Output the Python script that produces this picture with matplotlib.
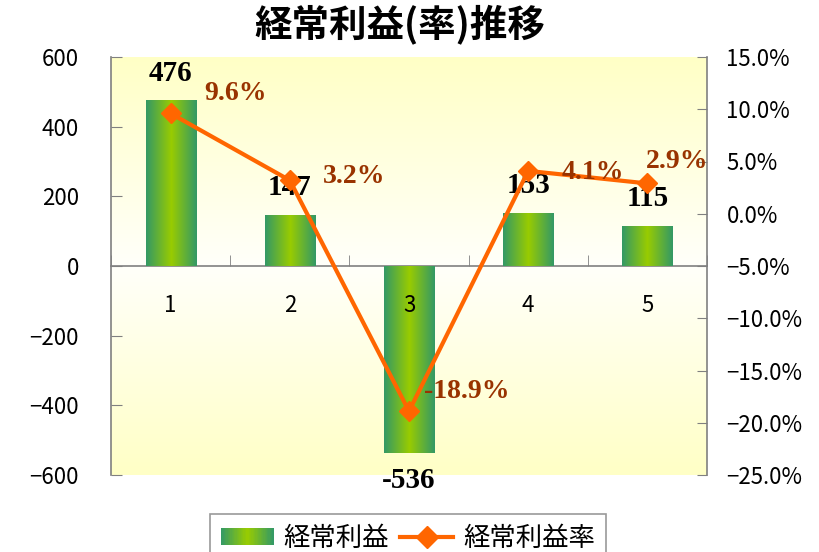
import numpy as np
import matplotlib
matplotlib.use("Agg")
import matplotlib.pyplot as plt
from matplotlib.colors import LinearSegmentedColormap
from matplotlib.patches import Rectangle
from matplotlib.lines import Line2D
from matplotlib.legend_handler import HandlerBase
from matplotlib.ticker import FuncFormatter

plt.rcParams['font.family'] = ['Noto Sans CJK JP', 'DejaVu Sans']

# ---- data ----
categories = ["1", "2", "3", "4", "5"]
profit = [476, 147, -536, 153, 115]
margin = [0.096, 0.032, -0.189, 0.041, 0.029]
margin_labels = ["9.6%", "3.2%", "-18.9%", "4.1%", "2.9%"]
title = "経常利益(率)推移"
bar_name = "経常利益"
line_name = "経常利益率"

left_ticks = [-600, -400, -200, 0, 200, 400, 600]
right_ticks = [-0.25, -0.20, -0.15, -0.10, -0.05, 0.0, 0.05, 0.10, 0.15]

# ---- style ----
dark_green = "#339966"
light_green = "#99CC00"
orange = "#FF6600"
brown = "#993300"
axis_gray = "#808080"
# label offsets (points) from each marker: (dx, dy) to left-center of text
pct_offsets = [(24, 14), (24, 3), (11, 14), (24, -1), (-1, 16)]

bar_cmap = LinearSegmentedColormap.from_list(
    "bar", [dark_green, light_green, dark_green], N=256)
bg_cmap = LinearSegmentedColormap.from_list(
    "bg", ["#FFFFC6", "#FFFFFA", "#FFFFC6"], N=256)

fig = plt.figure(figsize=(8.19, 5.52), dpi=100)
ax = fig.add_axes([111/819, 1-475/552, (707-111)/819, (475-57)/552])
x = np.arange(1, len(categories) + 1)

# background gradient
bg = np.linspace(0, 1, 256).reshape(-1, 1)
ax.imshow(bg, cmap=bg_cmap, extent=[0, 1, 0, 1], transform=ax.transAxes,
          aspect='auto', zorder=0)

ax.set_xlim(0.5, len(categories) + 0.5)
ax.set_ylim(-600, 600)

bars = ax.bar(x, profit, width=0.42, color=light_green, zorder=2, linewidth=0)
grad = np.linspace(0, 1, 256).reshape(1, -1)
for b in bars:
    x0, y0 = b.get_x(), b.get_y()
    w, h = b.get_width(), b.get_height()
    im = ax.imshow(grad, cmap=bar_cmap, extent=[x0, x0 + w, min(y0, y0 + h), max(y0, y0 + h)],
                   aspect='auto', zorder=3)
    im.set_clip_path(b)
    b.set_alpha(0)

# bar value labels
for xi, v in zip(x, profit):
    if v >= 0:
        ax.annotate(str(v), (xi, v), xytext=(0, 14), textcoords='offset points',
                    ha='center', va='baseline', fontsize=21, fontweight='bold',
                    family='Liberation Serif', color='black', zorder=6)
    else:
        ax.annotate(str(v), (xi, v), xytext=(0, -10), textcoords='offset points',
                    ha='center', va='top', fontsize=21, fontweight='bold',
                    family='Liberation Serif', color='black', zorder=6)

# axes styling (left)
for s in ['top', 'right']:
    ax.spines[s].set_visible(False)
ax.spines['bottom'].set_position(('data', 0))
for s in ['left', 'bottom']:
    ax.spines[s].set_color(axis_gray)
    ax.spines[s].set_linewidth(1.2)
ax.set_yticks(left_ticks)
ax.yaxis.set_major_formatter(FuncFormatter(lambda v, p: f"{int(v)}".replace("-", "\u2212")))
ax.tick_params(axis='y', direction='in', length=8, color=axis_gray, labelsize=16, pad=23)
ax.set_xticks(x)
ax.set_xticklabels(categories)
ax.tick_params(axis='x', which='major', length=0, labelsize=16, pad=20)
ax.set_xticks(np.arange(0.5, len(categories) + 1, 1), minor=True)
ax.tick_params(axis='x', which='minor', direction='in', length=8, color=axis_gray)
ax.xaxis.set_zorder(4)

# right axis line
ax2 = ax.twinx()
ax2.set_ylim(-0.25, 0.15)
ax2.set_xlim(0.5, len(categories) + 0.5)
ax2.plot(x, margin, color=orange, linewidth=3, marker='D', markersize=10,
         markerfacecolor=orange, markeredgecolor=orange, zorder=5)
for xi, v, t, off in zip(x, margin, margin_labels, pct_offsets):
    ax2.annotate(t, (xi, v), xytext=off, textcoords='offset points',
                 ha='left', va='center', fontsize=20, fontweight='bold',
                 family='Liberation Serif', color=brown, zorder=7)
for s in ['top', 'left', 'bottom']:
    ax2.spines[s].set_visible(False)
ax2.spines['right'].set_color(axis_gray)
ax2.spines['right'].set_linewidth(1.2)
ax2.set_yticks(right_ticks)
ax2.yaxis.set_major_formatter(FuncFormatter(lambda v, p: f"{v*100:.1f}%".replace("-", "\u2212")))
ax2.tick_params(axis='y', direction='in', length=7, color=axis_gray, labelsize=16, pad=14)


# legend with gradient patch
class GradHandler(HandlerBase):
    def create_artists(self, legend, orig_handle, xdescent, ydescent, width, height, fontsize, trans):
        n = 40
        arts = []
        for i in range(n):
            c = bar_cmap((i + 0.5) / n)
            r = Rectangle((-xdescent + width * i / n, -ydescent), width / n * 1.05, height,
                          facecolor=c, edgecolor='none', transform=trans)
            arts.append(r)
        return arts


bar_handle = Rectangle((0, 0), 1, 1)
line_handle = Line2D([0], [0], color=orange, linewidth=3, marker='D', markersize=11)
leg = fig.legend([bar_handle, line_handle], [bar_name, line_name],
                 handler_map={Rectangle: GradHandler()},
                 loc='upper center', bbox_to_anchor=(408/819, 1 - 514/552),
                 ncol=2, fontsize=19, frameon=True, fancybox=False,
                 edgecolor=axis_gray, handlelength=2.0, handleheight=0.6,
                 columnspacing=0.42, handletextpad=0.38, borderpad=0.4, borderaxespad=0)
leg.get_frame().set_linewidth(1.2)

fig.text(400/819, 1 - 24/552, title, ha='center', va='center', fontsize=27, fontweight='bold')

fig.savefig("out.png", dpi=100)
